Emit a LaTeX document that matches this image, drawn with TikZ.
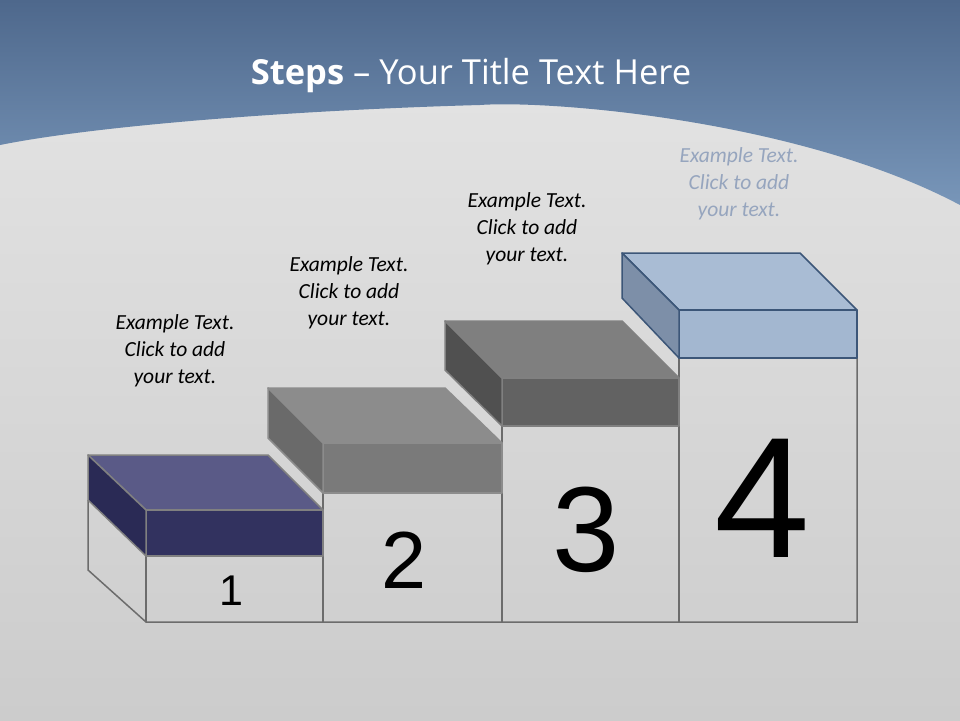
\documentclass[tikz,border=0pt]{standalone}
\usepackage{fontspec}
\setmainfont{Carlito}
\newfontfamily\numfont{Liberation Sans}
\newfontfamily\titlefont{Open Sans}
\begin{document}
\begin{tikzpicture}[x=1pt,y=-1pt,
  outl/.style={draw=gray!85!black,line width=1.5pt},
  slab/.style={line width=1.5pt,line join=round},
  etext/.style={align=center,font=\itshape\fontsize{21.5}{27}\selectfont,text=black},
  num/.style={font=\numfont}]
\useasboundingbox (0,0) rectangle (960,720);
\shade[top color=white!80!gray,bottom color=gray!40] (0,0) rectangle (960,720);
\shade[top color={rgb,255:red,78;green,104;blue,140},bottom color={rgb,255:red,120;green,150;blue,185}]
  (0,0) -- (960,0) -- (960,205) .. controls (800,120) and (550,100) .. (480,105) .. controls (300,110) and (100,125) .. (0,145) -- cycle;
\node[text=white,font=\titlefont\fontsize{34.5}{40}\selectfont] (title) at (471,76) {\textbf{Steps} – Your Title Text Here};
% boxes
\draw[outl] (88,500) -- (88,570) -- (146,622) -- (857,622) -- (857,358);
\draw[outl] (146,556) -- (146,622);
\draw[outl] (323,493) -- (323,622);
\draw[outl] (502,426) -- (502,622);
\draw[outl] (679,358) -- (679,622);
% step 1
\draw[slab,draw=gray,fill={rgb,255:red,90;green,90;blue,135}] (88,455) -- (268,455) -- (323,510) -- (146,510) -- cycle;
\draw[slab,draw=gray,fill={rgb,255:red,50;green,50;blue,95}] (146,510) rectangle (323,556);
\draw[slab,draw=gray,fill={rgb,255:red,42;green,42;blue,85}] (88,455) -- (146,510) -- (146,556) -- (88,500) -- cycle;
% step 2
\draw[slab,draw=gray!90,fill={rgb,255:red,140;green,140;blue,140}] (268,388) -- (445,388) -- (502,443) -- (323,443) -- cycle;
\draw[slab,draw=gray!90,fill={rgb,255:red,122;green,122;blue,122}] (323,443) rectangle (502,493);
\draw[slab,draw=gray!90,fill={rgb,255:red,106;green,106;blue,106}] (268,388) -- (323,443) -- (323,493) -- (268,438) -- cycle;
% step 3
\draw[slab,draw=gray,fill={rgb,255:red,127;green,127;blue,127}] (445,321) -- (622,321) -- (679,378) -- (502,378) -- cycle;
\draw[slab,draw=gray,fill={rgb,255:red,98;green,98;blue,98}] (502,378) rectangle (679,426);
\draw[slab,draw=gray,fill={rgb,255:red,80;green,80;blue,80}] (445,321) -- (502,378) -- (502,426) -- (445,370) -- cycle;
% step 4
\draw[slab,draw={rgb,255:red,60;green,86;blue,120},fill={rgb,255:red,169;green,188;blue,212}] (622,253) -- (800,253) -- (857,310) -- (679,310) -- cycle;
\draw[slab,draw={rgb,255:red,60;green,86;blue,120},fill={rgb,255:red,163;green,183;blue,208}] (679,310) rectangle (857,358);
\draw[slab,draw={rgb,255:red,60;green,86;blue,120},fill={rgb,255:red,125;green,143;blue,168}] (622,253) -- (679,310) -- (679,358) -- (622,298) -- cycle;
% numbers
\node[num,font=\numfont\fontsize{43}{43}\selectfont] (n1) at (231,591) {1};
\node[num,font=\numfont\fontsize{81}{81}\selectfont] (n2) at (404,560) {2};
\node[num,font=\numfont\fontsize{121}{121}\selectfont] (n3) at (586,530) {3};
\node[num,font=\numfont\fontsize{172}{172}\selectfont] (n4) at (762,498) {4};
% texts
\node[etext] (t1) at (175,351) {Example Text.\\Click  to add\\your text.};
\node[etext] (t2) at (349,293) {Example Text.\\Click  to add\\your text.};
\node[etext] (t3) at (527,229) {Example Text.\\Click  to add\\your text.};
\node[etext,text={rgb,255:red,150;green,165;blue,190}] (t4) at (739,184) {Example Text.\\Click  to add\\your text.};
\end{tikzpicture}
\end{document}
